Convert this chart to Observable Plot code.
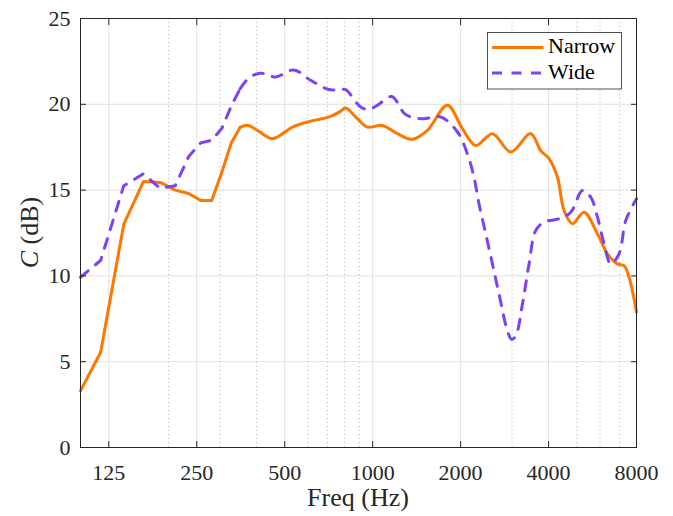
<!DOCTYPE html>
<html><head><meta charset="utf-8">
<script src="https://cdn.jsdelivr.net/npm/d3@7"></script>
<script src="https://cdn.jsdelivr.net/npm/@observablehq/plot@0.6"></script>
<style>
html,body{margin:0;padding:0;background:#fff;}
#chart svg text { font-family: "Liberation Serif", "DejaVu Serif"; }
</style>
</head><body><div id="chart"></div>
<script>
// ---- data ----
const freqNarrow = [100, 117.2, 140.6, 164.1, 187.5, 210.9, 234.4, 257.8, 281.3, 304.7, 328.1, 351.6,
  375, 408, 455, 531, 598, 718, 777, 808, 886, 959, 1079, 1215, 1368, 1539, 1802, 2028, 2253, 2570,
  2969, 3475, 3761, 4016, 4289, 4520, 4829, 5292, 5881, 6363, 6888, 7254, 7544, 8000];
const cNarrow = [3.3, 5.55, 13.0, 15.5, 15.45, 15.0, 14.8, 14.4, 14.4, 16.05, 17.75, 18.65,
  18.77, 18.42, 18.0, 18.67, 18.97, 19.3, 19.6, 19.78, 19.16, 18.67, 18.77, 18.29, 17.96, 18.48, 19.94, 18.58, 17.6, 18.29,
  17.22, 18.29, 17.3, 16.83, 15.76, 13.81, 13.04, 13.71, 12.45, 11.29, 10.7, 10.6, 9.92, 7.9];
const freqWide = [100, 117.2, 140.6, 164.1, 187.5, 210.9, 234.4, 257.8, 281.3, 304.7, 328.1, 351.6,
  375, 398, 422, 465, 537, 613, 708, 770, 808, 910, 970, 1037, 1161, 1297, 1480, 1710, 1949, 2109,
  2222, 2312, 2438, 2570, 2707, 2892, 2990, 3088, 3257, 3430, 3615, 3860, 4343, 4766, 5226, 5578,
  5881, 6194, 6532, 6974, 7352, 8000];
const cWide = [9.92, 10.9, 15.25, 15.95, 15.1, 15.25, 16.95, 17.75, 17.9, 18.6, 19.9, 20.9,
  21.5, 21.75, 21.8, 21.59, 22.0, 21.4, 20.86, 20.86, 20.85, 19.84, 19.7, 19.94, 20.45, 19.4, 19.16, 19.26, 18.4, 17.12,
  15.76, 14.2, 12.45, 10.7, 8.95, 6.8, 6.3, 6.5, 8.37, 10.7, 12.65, 13.13, 13.33, 13.71, 14.98, 14.59,
  13.42, 11.87, 10.7, 11.29, 13.23, 14.5];
const xTicks = [125, 250, 500, 1000, 2000, 4000, 8000];
const xMinor = [200, 300, 400, 600, 700, 800, 900, 3000, 5000, 6000, 7000];
const yTicks = [0, 5, 10, 15, 20, 25];
const seriesNames = ["Narrow", "Wide"];
const seriesColors = ["#ff7700", "#7d42f5"];
const seriesDash = [null, "10,9.5"];
const smoothFrom = 351.6; // Hz: straight bin-to-bin segments below, smooth above
const xLabel = "Freq (Hz)";

// ---- build ----
const rows = (f, c, name) => f.map((hz, i) => ({hz, c: c[i], name}));
const series = [rows(freqNarrow, cNarrow, "Narrow"), rows(freqWide, cWide, "Wide")];

const W = 673, H = 516;
const mL = 80, mR = 37, mT = 18, mB = 69;
const ink = "#262626";

const lineMarks = (data, i) => [
  Plot.line(data.filter(d => d.hz <= smoothFrom), {x: "hz", y: "c", stroke: seriesColors[i], strokeWidth: 3, strokeDasharray: seriesDash[i], curve: "linear"}),
  Plot.line(data.filter(d => d.hz >= smoothFrom), {x: "hz", y: "c", stroke: seriesColors[i], strokeWidth: 3, strokeDasharray: seriesDash[i], curve: "catmull-rom"})
];

const chart = Plot.plot({
  width: W, height: H, marginLeft: mL, marginRight: mR, marginTop: mT, marginBottom: mB,
  style: {fontSize: "22px", color: ink, background: "#fff"},
  x: {type: "log", domain: [100, 8000]},
  y: {domain: [0, 25]},
  marks: [
    Plot.ruleX(xMinor, {stroke: "#b5b5b5", strokeDasharray: "1,3", strokeWidth: 1}),
    Plot.ruleX(xTicks, {stroke: "#e2e2e2"}),
    Plot.ruleY(yTicks, {stroke: "#e2e2e2"}),
    ...lineMarks(series[0], 0),
    ...lineMarks(series[1], 1),
    Plot.frame({stroke: ink, strokeWidth: 1}),
    Plot.text(xTicks, {x: d => d, text: d => String(d), frameAnchor: "bottom", lineAnchor: "top", dy: 17, fontSize: 22, fill: ink}),
    Plot.axisX(xTicks, {anchor: "bottom", tickSize: -6, fill: "none", label: null, stroke: ink}),
    Plot.axisX(xTicks, {anchor: "top", tickSize: -6, fill: "none", label: null, stroke: ink}),
    Plot.axisY(yTicks, {anchor: "left", tickSize: 0, tickPadding: 10, label: null}),
    Plot.axisY(yTicks, {anchor: "left", tickSize: -6, fill: "none", label: null, stroke: ink}),
    Plot.axisY(yTicks, {anchor: "right", tickSize: -6, fill: "none", label: null, stroke: ink})
  ]
});
document.getElementById("chart").appendChild(chart);

// ---- axis titles & legend ----
const svg = d3.select(chart);
svg.append("text")
  .attr("x", (mL + W - mR) / 2).attr("y", 506)
  .attr("text-anchor", "middle").attr("font-size", 26).attr("fill", ink)
  .text(xLabel);
const yl = svg.append("text")
  .attr("transform", `translate(38,${(mT + H - mB) / 2}) rotate(-90)`)
  .attr("text-anchor", "middle").attr("font-size", 26).attr("fill", ink);
yl.append("tspan").attr("font-style", "italic").text("C");
yl.append("tspan").text(" (dB)");

const lg = svg.append("g");
lg.append("rect").attr("x", 487.5).attr("y", 32.5).attr("width", 134).attr("height", 56.5)
  .attr("fill", "#fff").attr("stroke", ink).attr("stroke-width", 0.8);
seriesNames.forEach((n, i) => {
  const y = 47.5 + i * 25.5;
  lg.append("line").attr("x1", 492).attr("x2", 543.5).attr("y1", y).attr("y2", y)
    .attr("stroke", seriesColors[i]).attr("stroke-width", 3).attr("stroke-dasharray", seriesDash[i]);
  lg.append("text").attr("x", 548).attr("y", y + 5.8).attr("text-anchor", "start")
    .attr("font-size", 22).attr("fill", "#000").text(n);
});
</script>
</body></html>
